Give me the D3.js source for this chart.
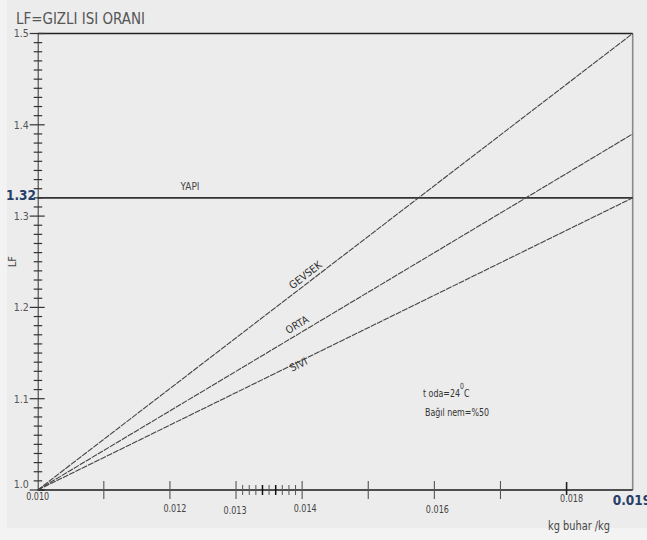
<!DOCTYPE html>
<html>
<head>
<meta charset="utf-8">
<script src="https://cdn.jsdelivr.net/npm/d3@7/dist/d3.min.js"></script>
<style>
  html, body { margin: 0; padding: 0; background: #f3f3f3; }
  svg { display: block; }
  text { font-family: "Liberation Sans Narrow", "DejaVu Sans Condensed", "Liberation Sans", sans-serif; }
</style>
</head>
<body>
<svg id="chart" width="647" height="540"></svg>
<script>
// Nem oranı (kg buhar / kg) ve gizli ısı oranı (LF)
const xTicks = [0.010, 0.011, 0.012, 0.013, 0.014, 0.015, 0.016, 0.017, 0.018, 0.019];
const xTickLabels = ["0.010", "", "0.012", "0.013", "0.014", "", "0.016", "", "0.018", "0.019"];
const xMinorTicks = [0.0131, 0.0132, 0.0133, 0.0134, 0.0135, 0.0136, 0.0137, 0.0138, 0.0139];
const yTicks = [1.0, 1.1, 1.2, 1.3, 1.4, 1.5];
const yTickLabels = ["1.0", "1.1", "1.2", "1.3", "1.4", "1.5"];
const yMinorTicks = d3.range(1, 50).filter(i => i % 10 !== 0).map(i => 1 + i / 100);

// Bina türleri: hepsi (0.010, 1.0) noktasından başlar
const seriesNames = ["GEVSEK", "ORTA", "SIVI"];
const seriesStart = [0.010, 1.0];
const seriesEndX = 0.019;
const seriesEndY = [1.50, 1.39, 1.32];
const seriesLabelX = [0.01412, 0.01399, 0.01393];

// YAPI seviyesi
const yapiLevel = 1.32;
const yapiLabel = "YAPI";

const title = "LF=GIZLI ISI ORANI";
const yTitle = "LF";
const xTitle = "kg buhar /kg";
const noteLines = ["t oda=24", "0", "C", "Bağıl nem=%50"];

const svg = d3.select("#chart");

// zemin
svg.append("rect").attr("x", 7).attr("y", 0).attr("width", 640).attr("height", 528).attr("fill", "#ececec");

const x = d3.scaleLinear().domain([0.010, 0.019]).range([37.7, 632.7]);
const y = d3.scaleLinear().domain([1.0, 1.5]).range([490, 33.5]);

// başlık
svg.append("text").attr("x", 16).attr("y", 24).attr("font-size", 15)
  .attr("textLength", 129).attr("lengthAdjust", "spacingAndGlyphs")
  .attr("fill", "#555").text(title);

// sağ kenar ve üst kenar
svg.append("line").attr("x1", x(0.019)).attr("x2", x(0.019)).attr("y1", y(1.5)).attr("y2", y(1.0))
  .attr("stroke", "#8a8a8a").attr("stroke-width", 1.6);
svg.append("line").attr("x1", x(0.010)).attr("x2", x(0.019)).attr("y1", y(1.5)).attr("y2", y(1.5))
  .attr("stroke", "#222").attr("stroke-width", 1.6);

// Y ekseni
const yAxis = d3.axisLeft(y).tickValues(yTicks).tickSize(0)
  .tickFormat((d, i) => yTickLabels[i]);
const gy = svg.append("g").attr("transform", `translate(${x(0.010)},0)`).call(yAxis);
gy.select(".domain").attr("stroke", "#333").attr("stroke-width", 1);
gy.selectAll(".tick text").attr("x", -9).attr("font-size", 10.5).attr("fill", "#555")
  .attr("font-family", null);
gy.selectAll(".tick").filter(d => d === 1.0).select("text").attr("dy", "-0.2em");

svg.append("g").selectAll("line").data(yTicks).join("line")
  .attr("x1", x(0.010) - 8).attr("x2", x(0.010) + 7)
  .attr("y1", d => y(d)).attr("y2", d => y(d))
  .attr("stroke", "#333").attr("stroke-width", 1.2);
svg.append("g").selectAll("line").data(yMinorTicks).join("line")
  .attr("x1", x(0.010) - 4).attr("x2", x(0.010) + 4.5)
  .attr("y1", d => y(d)).attr("y2", d => y(d))
  .attr("stroke", "#333").attr("stroke-width", 1.2);

// Y ekseni adı
svg.append("text").attr("transform", `translate(16,${y(1.25)}) rotate(-90)`)
  .attr("text-anchor", "middle").attr("font-size", 11).attr("fill", "#444").text(yTitle);

// X ekseni
svg.append("line").attr("x1", x(0.010)).attr("x2", x(0.019)).attr("y1", y(1.0)).attr("y2", y(1.0))
  .attr("stroke", "#1a1a1a").attr("stroke-width", 1.6);
svg.append("g").selectAll("line").data(xTicks.slice(1, -1)).join("line")
  .attr("x1", d => x(d)).attr("x2", d => x(d))
  .attr("y1", d => y(1.0) - (d === 0.018 ? 8 : 9)).attr("y2", d => y(1.0) + (d === 0.018 ? 5 : 9))
  .attr("stroke", d => d === 0.018 ? "#222" : "#555")
  .attr("stroke-width", d => d === 0.018 ? 1.6 : 1.1);
svg.append("g").selectAll("line").data(xMinorTicks).join("line")
  .attr("x1", d => x(d)).attr("x2", d => x(d))
  .attr("y1", y(1.0) - 5).attr("y2", y(1.0) + 5)
  .attr("stroke", (d, i) => (i === 3 || i === 5) ? "#111" : "#555")
  .attr("stroke-width", (d, i) => (i === 3 || i === 5) ? 1.5 : 1);

const xLabelY = { "0.010": 500, "0.012": 512, "0.013": 514, "0.014": 512, "0.016": 513, "0.018": 502 };
const xLabelDX = { "0.010": 0, "0.012": 5, "0.013": -1, "0.014": 3, "0.016": 3, "0.018": 5 };
svg.append("g").selectAll("text")
  .data(xTicks.map((v, i) => ({ v, label: xTickLabels[i] })).filter(d => d.label && d.label !== "0.019"))
  .join("text")
  .attr("x", d => x(d.v) + xLabelDX[d.label]).attr("y", d => xLabelY[d.label])
  .attr("text-anchor", "middle").attr("font-size", 10.5).attr("fill", "#444")
  .attr("textLength", 23).attr("lengthAdjust", "spacingAndGlyphs")
  .text(d => d.label);
svg.append("text").attr("x", x(0.019) - 20).attr("y", 505).attr("font-size", 13.5)
  .attr("font-family", "'Liberation Sans', sans-serif").attr("font-weight", "bold")
  .attr("fill", "#27406a").text(xTickLabels[9]);

svg.append("text").attr("x", 579).attr("y", 530).attr("text-anchor", "middle")
  .attr("font-size", 12).attr("textLength", 62).attr("lengthAdjust", "spacingAndGlyphs")
  .attr("fill", "#444").text(xTitle);

// YAPI çizgisi
svg.append("line").attr("x1", x(0.010)).attr("x2", x(0.019))
  .attr("y1", y(yapiLevel)).attr("y2", y(yapiLevel))
  .attr("stroke", "#333").attr("stroke-width", 1.6);
svg.append("text").attr("x", 6).attr("y", y(yapiLevel) + 2).attr("font-size", 13.5)
  .attr("font-family", "'Liberation Sans', sans-serif").attr("font-weight", "bold")
  .attr("fill", "#27406a").text(String(yapiLevel));
svg.append("text").attr("x", 190).attr("y", y(yapiLevel) - 8).attr("text-anchor", "middle")
  .attr("font-size", 10).attr("fill", "#444").text(yapiLabel);

// bina türü doğruları
const line = d3.line().x(d => x(d[0])).y(d => y(d[1]));
const series = seriesNames.map((name, i) => ({
  name, pts: [seriesStart, [seriesEndX, seriesEndY[i]]], lx: seriesLabelX[i], endY: seriesEndY[i]
}));
svg.append("g").selectAll("path").data(series).join("path")
  .attr("d", d => line(d.pts)).attr("fill", "none")
  .attr("stroke", "#444").attr("stroke-width", 1.1).attr("stroke-dasharray", "6,1");

const labelOffset = [-4, -5, 6];
series.forEach((s, i) => {
  const slope = (s.endY - seriesStart[1]) / (seriesEndX - seriesStart[0]);
  const ly = seriesStart[1] + slope * (s.lx - seriesStart[0]);
  const ang = Math.atan2(y(s.endY) - y(seriesStart[1]), x(seriesEndX) - x(seriesStart[0])) * 180 / Math.PI;
  svg.append("text")
    .attr("transform", `translate(${x(s.lx)},${y(ly)}) rotate(${ang}) translate(0,${labelOffset[i]})`)
    .attr("text-anchor", "middle").attr("font-size", 10.5).attr("fill", "#333")
    .text(s.name);
});

// koşullar: oda sıcaklığı ve bağıl nem (dar yazı)
const note1 = svg.append("g").attr("transform", "translate(423,397) scale(0.8,1)")
  .append("text").attr("font-size", 11).attr("fill", "#333");
note1.append("tspan").text(noteLines[0]);
note1.append("tspan").attr("dy", -8).attr("font-size", 8.5).text(noteLines[1]);
note1.append("tspan").attr("dy", 8).text(noteLines[2]);
svg.append("g").attr("transform", "translate(425,416) scale(0.8,1)")
  .append("text").attr("font-size", 11).attr("fill", "#333").text(noteLines[3]);
</script>
</body>
</html>
